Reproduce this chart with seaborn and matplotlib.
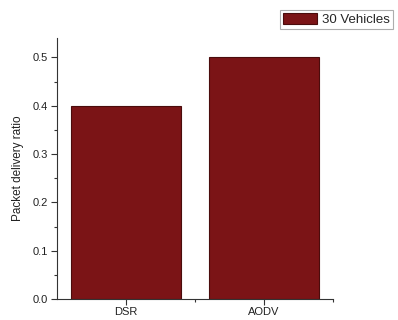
import matplotlib
matplotlib.use("Agg")
import matplotlib.pyplot as plt
from matplotlib.ticker import MultipleLocator, FixedLocator
import seaborn as sns
import pandas as pd

protocols = ["DSR", "AODV"]
pdr_values = [0.40, 0.50]
series_name = "30 Vehicles"

df = pd.DataFrame({"Protocol": protocols, "PDR": pdr_values, "Series": [series_name] * len(protocols)})

sns.set_style("ticks")
plt.rcParams["font.family"] = ["Liberation Sans", "DejaVu Sans"]

fig = plt.figure(figsize=(3.98, 3.2), dpi=100)
ax = fig.add_axes([57 / 398, 1 - 299 / 320, (333 - 57) / 398, (299 - 38) / 320])

sns.barplot(data=df, x="Protocol", y="PDR", hue="Series", palette=["#7b1416"],
            saturation=1, width=0.8, edgecolor="#4a0c0c", linewidth=0.8, ax=ax, legend=True)

ax.set_xlim(-0.5, 1.5)
ax.set_ylim(0, 0.54)
ax.yaxis.set_major_locator(MultipleLocator(0.1))
ax.yaxis.set_minor_locator(MultipleLocator(0.05))
ax.xaxis.set_minor_locator(FixedLocator([0.5, 1.5]))
ax.yaxis.set_major_formatter(plt.FormatStrFormatter("%.1f"))
ax.tick_params(axis="both", which="major", direction="out", length=4, width=0.8,
               labelsize=8, color="#333333", labelcolor="#222222")
ax.tick_params(axis="both", which="minor", direction="out", length=2.5, width=0.8, color="#333333")
ax.tick_params(axis="x", which="major", pad=1.5)
ax.tick_params(axis="y", which="major", pad=2.5)
for side in ("top", "right"):
    ax.spines[side].set_visible(False)
for side in ("left", "bottom"):
    ax.spines[side].set_color("#333333")
    ax.spines[side].set_linewidth(0.8)

ax.set_xlabel("")
ax.set_ylabel("Packet delivery ratio", fontsize=8.5, color="#222222", labelpad=6)

leg = ax.legend(loc="upper left", bbox_to_anchor=(280 / 398, 1 - 10 / 320),
                bbox_transform=fig.transFigure, frameon=True, fancybox=False,
                fontsize=9.5, handlelength=2.6, handleheight=1.0, borderpad=0.2,
                handletextpad=0.4, borderaxespad=0)
leg.get_frame().set_edgecolor("#999999")
leg.get_frame().set_linewidth(0.8)

fig.savefig("out.png", dpi=100)
